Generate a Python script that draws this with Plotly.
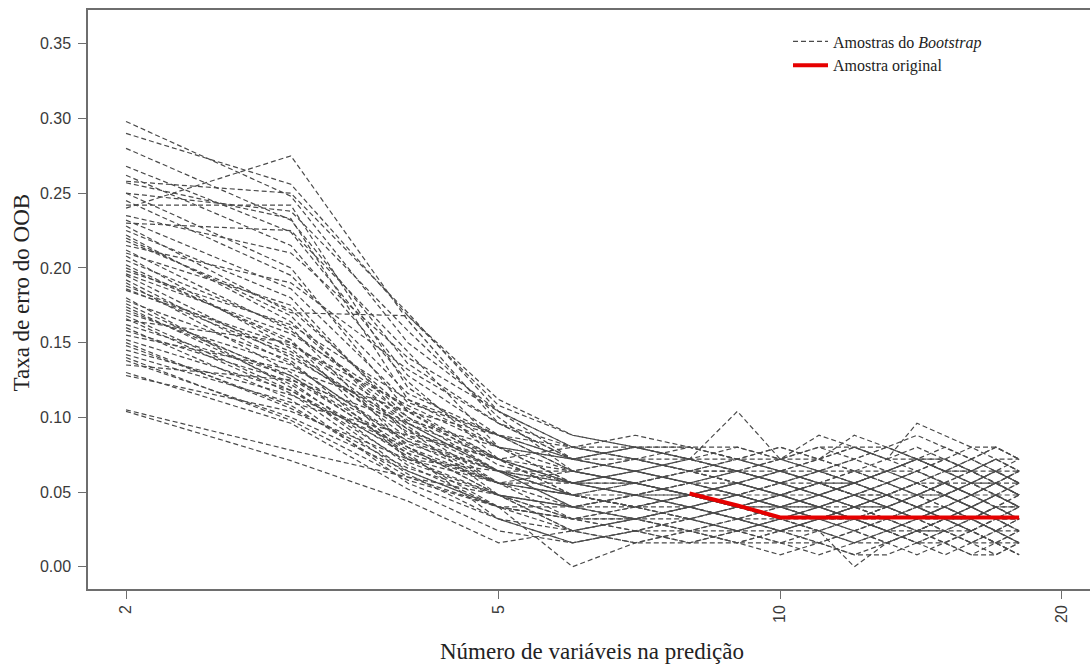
import plotly.graph_objects as go

# Number of variables retained in the model (log-scaled x axis)
n_vars = [2, 3, 4, 5, 6, 7, 8, 9, 10, 11, 12, 13, 14, 15, 16, 17, 18]

# OOB error rate along the selection path of each bootstrap sample
boot_01 = [0.298, 0.248, 0.150, 0.104, 0.080, 0.072, 0.064, 0.056, 0.064, 0.056, 0.048, 0.056, 0.064, 0.056, 0.048, 0.056, 0.048]
boot_02 = [0.290, 0.256, 0.168, 0.112, 0.088, 0.080, 0.072, 0.064, 0.056, 0.064, 0.072, 0.064, 0.072, 0.064, 0.056, 0.064, 0.072]
boot_03 = [0.280, 0.232, 0.136, 0.096, 0.072, 0.064, 0.056, 0.064, 0.056, 0.048, 0.040, 0.048, 0.056, 0.048, 0.040, 0.048, 0.040]
boot_04 = [0.268, 0.224, 0.128, 0.088, 0.064, 0.056, 0.048, 0.056, 0.048, 0.040, 0.048, 0.040, 0.048, 0.056, 0.048, 0.040, 0.032]
boot_05 = [0.258, 0.250, 0.170, 0.104, 0.072, 0.080, 0.072, 0.080, 0.072, 0.064, 0.056, 0.064, 0.072, 0.064, 0.072, 0.064, 0.056]
boot_06 = [0.240, 0.275, 0.165, 0.096, 0.072, 0.064, 0.072, 0.104, 0.072, 0.088, 0.080, 0.072, 0.096, 0.088, 0.080, 0.072, 0.064]
boot_07 = [0.242, 0.242, 0.120, 0.080, 0.056, 0.048, 0.056, 0.048, 0.040, 0.032, 0.040, 0.032, 0.040, 0.032, 0.040, 0.032, 0.032]
boot_08 = [0.257, 0.233, 0.112, 0.088, 0.064, 0.056, 0.064, 0.072, 0.064, 0.056, 0.064, 0.056, 0.048, 0.056, 0.064, 0.056, 0.048]
boot_09 = [0.250, 0.200, 0.104, 0.072, 0.048, 0.040, 0.048, 0.040, 0.048, 0.056, 0.048, 0.040, 0.032, 0.040, 0.048, 0.040, 0.048]
boot_10 = [0.230, 0.225, 0.144, 0.080, 0.056, 0.064, 0.056, 0.048, 0.056, 0.048, 0.056, 0.064, 0.056, 0.048, 0.056, 0.048, 0.056]
boot_11 = [0.225, 0.180, 0.096, 0.064, 0.040, 0.032, 0.040, 0.032, 0.024, 0.032, 0.024, 0.032, 0.040, 0.032, 0.024, 0.032, 0.024]
boot_12 = [0.220, 0.168, 0.088, 0.056, 0.048, 0.040, 0.032, 0.040, 0.032, 0.024, 0.032, 0.040, 0.032, 0.024, 0.032, 0.024, 0.016]
boot_13 = [0.210, 0.175, 0.100, 0.064, 0.048, 0.056, 0.048, 0.040, 0.032, 0.040, 0.032, 0.024, 0.032, 0.040, 0.032, 0.040, 0.032]
boot_14 = [0.205, 0.160, 0.080, 0.048, 0.032, 0.040, 0.032, 0.024, 0.032, 0.024, 0.016, 0.024, 0.032, 0.024, 0.016, 0.024, 0.016]
boot_15 = [0.200, 0.152, 0.072, 0.064, 0.056, 0.048, 0.040, 0.048, 0.056, 0.048, 0.040, 0.048, 0.040, 0.048, 0.056, 0.048, 0.040]
boot_16 = [0.195, 0.140, 0.096, 0.072, 0.064, 0.056, 0.048, 0.056, 0.064, 0.072, 0.080, 0.072, 0.064, 0.072, 0.064, 0.072, 0.064]
boot_17 = [0.190, 0.130, 0.084, 0.056, 0.040, 0.048, 0.040, 0.032, 0.040, 0.048, 0.056, 0.048, 0.056, 0.048, 0.040, 0.048, 0.056]
boot_18 = [0.185, 0.148, 0.108, 0.080, 0.072, 0.064, 0.056, 0.064, 0.072, 0.080, 0.072, 0.080, 0.088, 0.080, 0.072, 0.080, 0.072]
boot_19 = [0.180, 0.120, 0.064, 0.040, 0.024, 0.032, 0.024, 0.016, 0.024, 0.032, 0.024, 0.016, 0.024, 0.016, 0.024, 0.016, 0.008]
boot_20 = [0.178, 0.138, 0.072, 0.048, 0.040, 0.032, 0.024, 0.032, 0.024, 0.016, 0.024, 0.032, 0.024, 0.032, 0.024, 0.032, 0.024]
boot_21 = [0.172, 0.128, 0.080, 0.056, 0.048, 0.040, 0.048, 0.056, 0.048, 0.040, 0.032, 0.040, 0.048, 0.040, 0.032, 0.040, 0.048]
boot_22 = [0.165, 0.150, 0.092, 0.064, 0.056, 0.064, 0.072, 0.064, 0.056, 0.048, 0.056, 0.064, 0.072, 0.064, 0.056, 0.064, 0.056]
boot_23 = [0.160, 0.112, 0.056, 0.032, 0.016, 0.024, 0.032, 0.024, 0.016, 0.008, 0.016, 0.024, 0.016, 0.008, 0.016, 0.008, 0.016]
boot_24 = [0.158, 0.124, 0.068, 0.040, 0.032, 0.024, 0.016, 0.024, 0.032, 0.040, 0.032, 0.024, 0.032, 0.040, 0.032, 0.024, 0.032]
boot_25 = [0.152, 0.118, 0.076, 0.056, 0.048, 0.056, 0.064, 0.056, 0.048, 0.056, 0.064, 0.056, 0.064, 0.072, 0.064, 0.056, 0.064]
boot_26 = [0.148, 0.108, 0.060, 0.048, 0.040, 0.032, 0.040, 0.048, 0.040, 0.032, 0.040, 0.048, 0.040, 0.032, 0.040, 0.048, 0.040]
boot_27 = [0.142, 0.110, 0.088, 0.072, 0.056, 0.064, 0.056, 0.048, 0.040, 0.048, 0.056, 0.048, 0.040, 0.048, 0.040, 0.032, 0.040]
boot_28 = [0.138, 0.100, 0.064, 0.040, 0.000, 0.016, 0.024, 0.032, 0.024, 0.016, 0.008, 0.016, 0.024, 0.016, 0.008, 0.016, 0.008]
boot_29 = [0.130, 0.096, 0.052, 0.024, 0.016, 0.024, 0.016, 0.024, 0.016, 0.024, 0.032, 0.024, 0.016, 0.024, 0.032, 0.024, 0.032]
boot_30 = [0.128, 0.104, 0.072, 0.056, 0.064, 0.056, 0.048, 0.040, 0.032, 0.024, 0.000, 0.016, 0.024, 0.032, 0.024, 0.016, 0.024]
boot_31 = [0.105, 0.078, 0.060, 0.040, 0.032, 0.040, 0.048, 0.040, 0.048, 0.040, 0.048, 0.040, 0.032, 0.040, 0.048, 0.056, 0.048]
boot_32 = [0.104, 0.071, 0.044, 0.016, 0.024, 0.032, 0.040, 0.032, 0.040, 0.032, 0.040, 0.048, 0.040, 0.048, 0.040, 0.032, 0.040]
boot_33 = [0.215, 0.190, 0.132, 0.096, 0.080, 0.072, 0.080, 0.072, 0.064, 0.072, 0.088, 0.080, 0.072, 0.080, 0.072, 0.080, 0.072]
boot_34 = [0.245, 0.195, 0.116, 0.088, 0.080, 0.088, 0.080, 0.072, 0.080, 0.072, 0.080, 0.072, 0.080, 0.072, 0.064, 0.072, 0.064]
boot_35 = [0.235, 0.210, 0.140, 0.104, 0.080, 0.072, 0.064, 0.072, 0.080, 0.072, 0.064, 0.056, 0.064, 0.056, 0.048, 0.056, 0.048]
boot_36 = [0.262, 0.215, 0.124, 0.072, 0.056, 0.048, 0.040, 0.048, 0.040, 0.048, 0.040, 0.032, 0.024, 0.032, 0.040, 0.032, 0.024]
boot_37 = [0.212, 0.158, 0.100, 0.072, 0.048, 0.040, 0.032, 0.024, 0.032, 0.040, 0.048, 0.056, 0.048, 0.040, 0.032, 0.040, 0.032]
boot_38 = [0.198, 0.162, 0.112, 0.080, 0.064, 0.072, 0.064, 0.056, 0.048, 0.056, 0.048, 0.056, 0.048, 0.056, 0.064, 0.056, 0.064]
boot_39 = [0.188, 0.144, 0.092, 0.048, 0.032, 0.024, 0.032, 0.040, 0.048, 0.040, 0.032, 0.024, 0.016, 0.024, 0.016, 0.024, 0.016]
boot_40 = [0.170, 0.135, 0.084, 0.064, 0.048, 0.040, 0.048, 0.056, 0.064, 0.056, 0.048, 0.040, 0.048, 0.056, 0.048, 0.056, 0.048]
boot_41 = [0.155, 0.132, 0.104, 0.088, 0.072, 0.080, 0.072, 0.064, 0.056, 0.064, 0.072, 0.080, 0.072, 0.064, 0.072, 0.064, 0.056]
boot_42 = [0.145, 0.115, 0.080, 0.048, 0.024, 0.016, 0.024, 0.016, 0.008, 0.016, 0.024, 0.016, 0.008, 0.016, 0.024, 0.016, 0.008]
boot_43 = [0.135, 0.125, 0.096, 0.064, 0.040, 0.048, 0.056, 0.048, 0.056, 0.064, 0.056, 0.048, 0.056, 0.048, 0.056, 0.048, 0.040]
boot_44 = [0.162, 0.128, 0.076, 0.032, 0.024, 0.032, 0.040, 0.032, 0.024, 0.032, 0.040, 0.032, 0.040, 0.032, 0.024, 0.016, 0.024]
boot_45 = [0.250, 0.238, 0.158, 0.100, 0.064, 0.056, 0.048, 0.040, 0.048, 0.040, 0.032, 0.040, 0.032, 0.040, 0.032, 0.040, 0.032]
boot_46 = [0.228, 0.170, 0.168, 0.108, 0.088, 0.080, 0.072, 0.064, 0.072, 0.064, 0.056, 0.064, 0.056, 0.064, 0.056, 0.064, 0.056]
boot_47 = [0.186, 0.142, 0.090, 0.072, 0.080, 0.080, 0.080, 0.080, 0.072, 0.072, 0.064, 0.064, 0.072, 0.072, 0.064, 0.064, 0.064]
boot_48 = [0.176, 0.126, 0.078, 0.056, 0.056, 0.056, 0.048, 0.048, 0.048, 0.056, 0.056, 0.048, 0.048, 0.048, 0.056, 0.056, 0.056]
boot_49 = [0.168, 0.118, 0.070, 0.048, 0.040, 0.040, 0.040, 0.032, 0.032, 0.032, 0.040, 0.040, 0.032, 0.032, 0.032, 0.040, 0.040]
boot_50 = [0.208, 0.146, 0.086, 0.064, 0.064, 0.072, 0.072, 0.072, 0.064, 0.064, 0.064, 0.072, 0.072, 0.064, 0.064, 0.072, 0.072]
boot_51 = [0.222, 0.164, 0.094, 0.056, 0.032, 0.032, 0.024, 0.024, 0.024, 0.032, 0.032, 0.024, 0.024, 0.032, 0.032, 0.024, 0.024]
boot_52 = [0.192, 0.136, 0.082, 0.064, 0.048, 0.048, 0.056, 0.056, 0.048, 0.048, 0.040, 0.040, 0.048, 0.048, 0.040, 0.048, 0.048]
boot_53 = [0.150, 0.106, 0.066, 0.048, 0.024, 0.016, 0.016, 0.016, 0.024, 0.024, 0.016, 0.016, 0.024, 0.024, 0.016, 0.016, 0.016]
boot_54 = [0.232, 0.186, 0.110, 0.088, 0.072, 0.072, 0.064, 0.064, 0.064, 0.056, 0.056, 0.064, 0.064, 0.056, 0.056, 0.056, 0.064]
boot_55 = [0.140, 0.098, 0.058, 0.040, 0.040, 0.048, 0.048, 0.040, 0.040, 0.040, 0.048, 0.048, 0.056, 0.056, 0.048, 0.048, 0.040]
boot_56 = [0.202, 0.150, 0.098, 0.080, 0.072, 0.080, 0.080, 0.072, 0.072, 0.080, 0.080, 0.080, 0.072, 0.072, 0.080, 0.080, 0.072]
boot_57 = [0.174, 0.122, 0.074, 0.040, 0.032, 0.032, 0.032, 0.040, 0.040, 0.032, 0.032, 0.032, 0.024, 0.024, 0.024, 0.032, 0.032]
boot_58 = [0.218, 0.172, 0.104, 0.068, 0.056, 0.056, 0.064, 0.064, 0.056, 0.056, 0.048, 0.048, 0.056, 0.064, 0.064, 0.056, 0.048]
boot_59 = [0.166, 0.116, 0.062, 0.032, 0.016, 0.024, 0.024, 0.016, 0.016, 0.016, 0.008, 0.008, 0.016, 0.016, 0.008, 0.008, 0.016]
boot_60 = [0.196, 0.156, 0.106, 0.072, 0.056, 0.048, 0.048, 0.048, 0.040, 0.040, 0.040, 0.048, 0.040, 0.040, 0.048, 0.040, 0.040]

bootstrap_samples = [
    boot_01, boot_02, boot_03, boot_04, boot_05, boot_06, boot_07, boot_08,
    boot_09, boot_10, boot_11, boot_12, boot_13, boot_14, boot_15, boot_16,
    boot_17, boot_18, boot_19, boot_20, boot_21, boot_22, boot_23, boot_24,
    boot_25, boot_26, boot_27, boot_28, boot_29, boot_30, boot_31, boot_32,
    boot_33, boot_34, boot_35, boot_36, boot_37, boot_38, boot_39, boot_40,
    boot_41, boot_42, boot_43, boot_44, boot_45, boot_46, boot_47, boot_48,
    boot_49, boot_50, boot_51, boot_52, boot_53, boot_54, boot_55, boot_56,
    boot_57, boot_58, boot_59, boot_60,
]

# Selection path of the original sample
original_vars = [8, 9, 10, 11, 12, 13, 14, 15, 16, 17, 18]
original_err = [0.049, 0.041, 0.033, 0.033, 0.033, 0.033, 0.033, 0.033, 0.033, 0.033, 0.033]

x_tick_vals = [2, 5, 10, 20]
x_tick_text = ["2", "5", "10", "20"]
y_tick_vals = [0.00, 0.05, 0.10, 0.15, 0.20, 0.25, 0.30, 0.35]
y_tick_text = ["0.00", "0.05", "0.10", "0.15", "0.20", "0.25", "0.30", "0.35"]

SERIF = "Liberation Serif, Times New Roman, serif"
SANS = "Liberation Sans, Arial, sans-serif"
AXIS_GREY = "#6e6e6e"

fig = go.Figure()

for i, err in enumerate(bootstrap_samples):
    fig.add_trace(go.Scatter(
        x=n_vars, y=err, mode="lines",
        line=dict(color="#4a4a4a", width=1.2, dash="5px,3px"),
        name="Amostras do <i>Bootstrap</i>",
        legendgroup="bootstrap", showlegend=(i == 0),
        hoverinfo="skip",
    ))

fig.add_trace(go.Scatter(
    x=original_vars, y=original_err, mode="lines",
    line=dict(color="#e60000", width=4),
    name="Amostra original",
))

fig.update_layout(
    width=1090, height=669,
    margin=dict(l=88, r=0, t=10, b=80),
    paper_bgcolor="white", plot_bgcolor="white",
    showlegend=True,
    legend=dict(
        x=0.6986, y=0.975, xanchor="left", yanchor="top",
        bgcolor="rgba(0,0,0,0)", borderwidth=0, itemwidth=35,
        font=dict(family=SERIF, size=16, color="#222"),
        tracegroupgap=0, traceorder="normal",
    ),
    xaxis=dict(
        type="log", range=[0.2604, 1.331],
        tickmode="array", tickvals=x_tick_vals, ticktext=x_tick_text,
        tickangle=-90, ticks="outside", ticklen=8, tickwidth=1.3, tickcolor=AXIS_GREY,
        tickfont=dict(family=SANS, size=16, color="#3a3a3a"),
        showline=True, linecolor=AXIS_GREY, linewidth=1.5, mirror=True,
        showgrid=False, zeroline=False,
    ),
    yaxis=dict(
        range=[-0.0149, 0.3726],
        tickmode="array", tickvals=y_tick_vals, ticktext=y_tick_text,
        ticks="outside", ticklen=8, tickwidth=1.3, tickcolor=AXIS_GREY,
        tickfont=dict(family=SANS, size=16, color="#3a3a3a"),
        ticklabelstandoff=4,
        showline=True, linecolor=AXIS_GREY, linewidth=1.5, mirror=False,
        showgrid=False, zeroline=False,
    ),
    annotations=[
        dict(text="Número de variáveis na predição", xref="paper", yref="paper",
             x=0.503, y=-0.1088, xanchor="center", yanchor="middle", showarrow=False,
             font=dict(family=SERIF, size=23, color="#222")),
        dict(text="Taxa de erro do OOB", xref="paper", yref="paper", textangle=-90,
             x=-0.0659, y=0.512, xanchor="center", yanchor="middle", showarrow=False,
             font=dict(family=SERIF, size=23, color="#222")),
    ],
)

fig.write_html("out.html")
